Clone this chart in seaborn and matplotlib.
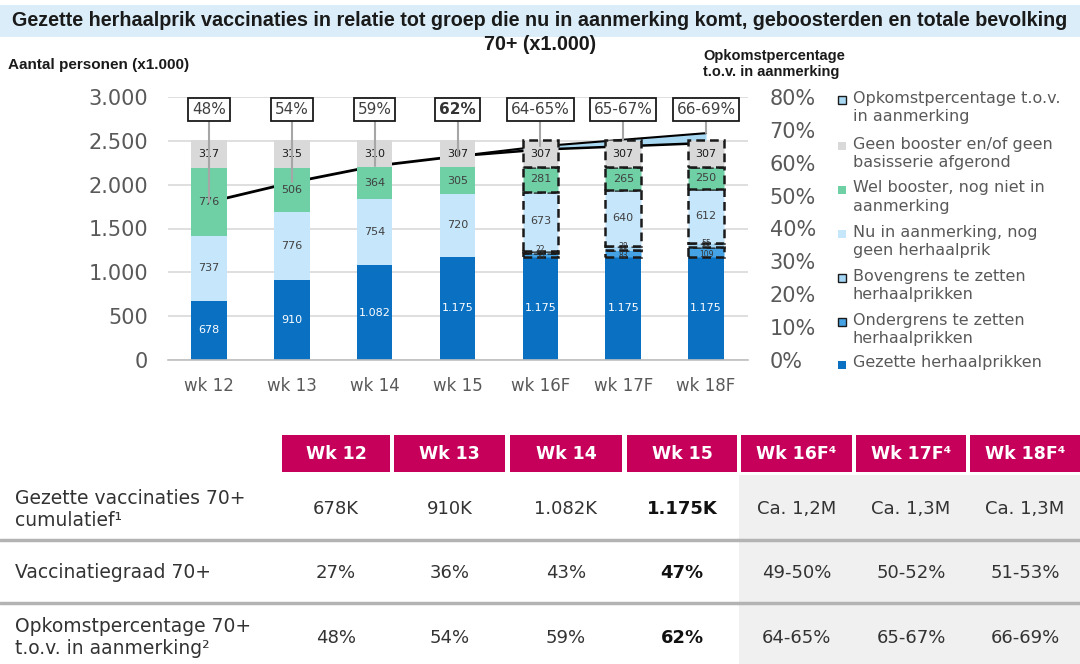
import matplotlib
matplotlib.use("Agg")
import matplotlib.pyplot as plt
from matplotlib.patches import Rectangle
from matplotlib.lines import Line2D
from matplotlib.ticker import FuncFormatter, FixedLocator
import seaborn as sns
import numpy as np

# ---------------- data ----------------
weeks = ["wk 12", "wk 13", "wk 14", "wk 15", "wk 16F", "wk 17F", "wk 18F"]
gezet = [678, 910, 1082, 1175, 1175, 1175, 1175]
onder = [0, 0, 0, 0, 50, 83, 109]
boven = [0, 0, 0, 0, 22, 38, 55]
nu_aanm = [737, 776, 754, 720, 673, 640, 612]
wel_booster = [776, 506, 364, 305, 281, 265, 250]
geen_booster = [317, 315, 310, 307, 307, 307, 307]

opkomst_actual = [48, 54, 59, 62]          # wk12..wk15
opkomst_low = [62, 64, 65, 66]             # wk15..wk18F
opkomst_high = [62, 65, 67, 69]
opkomst_labels = ["48%", "54%", "59%", "62%", "64-65%", "65-67%", "66-69%"]
opkomst_point = [48, 54, 59, 62, 65, 67, 69]

table_header = ["Wk 12", "Wk 13", "Wk 14", "Wk 15", "Wk 16F⁴", "Wk 17F⁴", "Wk 18F⁴"]
row_labels = ["Gezette vaccinaties 70+\ncumulatief¹", "Vaccinatiegraad 70+",
              "Opkomstpercentage 70+\nt.o.v. in aanmerking²"]
row_vacc = ["678K", "910K", "1.082K", "1.175K", "Ca. 1,2M", "Ca. 1,3M", "Ca. 1,3M"]
row_graad = ["27%", "36%", "43%", "47%", "49-50%", "50-52%", "51-53%"]
row_opkomst = ["48%", "54%", "59%", "62%", "64-65%", "65-67%", "66-69%"]

legend_labels = ["Opkomstpercentage t.o.v.\nin aanmerking",
                 "Geen booster en/of geen\nbasisserie afgerond",
                 "Wel booster, nog niet in\naanmerking",
                 "Nu in aanmerking, nog\ngeen herhaalprik",
                 "Bovengrens te zetten\nherhaalprikken",
                 "Ondergrens te zetten\nherhaalprikken",
                 "Gezette herhaalprikken"]

# ---------------- style ----------------
sns.set_theme(style="white")
plt.rcParams['font.family'] = ['DejaVu Sans']
NARROW = ['Liberation Sans Narrow', 'Liberation Sans', 'DejaVu Sans']

C_GEZET = '#0a70c2'
C_ONDER = '#45a3e5'
C_BOVEN = '#a6d6f5'
C_NU = '#c6e6fb'
C_WEL = '#6fcfa5'
C_GEEN = '#d9d9d9'
C_BAND = '#a9d9f2'
C_TXT = '#595959'
C_MAG = '#c6005a'

W, H = 1080, 664
fig = plt.figure(figsize=(W / 100, H / 100), dpi=100)


def fx(x):
    return x / W


def fy(y):
    return 1 - y / H


# ---------------- title ----------------
fig.patches.append(Rectangle((0, fy(37)), 1, 32 / H, transform=fig.transFigure,
                             facecolor='#daedf8', edgecolor='none', zorder=0))
fig.text(0.5, fy(21), "Gezette herhaalprik vaccinaties in relatie tot groep die nu in aanmerking komt, geboosterden en totale bevolking",
         ha='center', va='center', fontsize=14.2, fontweight='bold', family=NARROW, color='#1a1a1a')
fig.text(0.5, fy(44), "70+ (x1.000)", ha='center', va='center', fontsize=14.2,
         fontweight='bold', family=NARROW, color='#1a1a1a')
fig.text(fx(8), fy(65), "Aantal personen (x1.000)", ha='left', va='center', fontsize=11,
         fontweight='bold', family=NARROW, color='#1a1a1a')
fig.text(fx(703), fy(64), "Opkomstpercentage\nt.o.v. in aanmerking", ha='left', va='center',
         fontsize=10.5, fontweight='bold', family=NARROW, color='#1a1a1a', linespacing=1.25)

# ---------------- chart ----------------
ax = fig.add_axes([fx(167.5), fy(360), (747.5 - 167.5) / W, (360 - 97) / H])
x = np.arange(len(weeks))
bw = 0.43
YMAX = 3000
PMAX = 80
scale = YMAX / PMAX

ax.set_xlim(-0.5, len(weeks) - 0.5)
ax.set_ylim(0, YMAX)
ax.set_yticks(np.arange(0, 3001, 500))
ax.yaxis.set_major_formatter(FuncFormatter(lambda v, p: f"{int(v):,}".replace(",", ".")))
ax.grid(axis='y', color='#d9d9d9', linewidth=1.2)
ax.set_axisbelow(True)
for s in ['left', 'right', 'top']:
    ax.spines[s].set_visible(False)
ax.spines['bottom'].set_color('#bfbfbf')
ax.spines['bottom'].set_linewidth(1.2)
ax.tick_params(axis='y', length=0, labelsize=15, labelcolor=C_TXT, pad=14)
ax.set_xticks(x)
ax.set_xticklabels(weeks)
ax.tick_params(axis='x', which='major', length=0, labelsize=12, labelcolor=C_TXT, pad=12)
ax.xaxis.set_minor_locator(FixedLocator(np.arange(-0.5, len(weeks), 1.0)))
ax.tick_params(axis='x', which='minor', length=6, color='#bfbfbf', width=1.2)

# opkomst line (behind bars)
sns.lineplot(x=x[:4], y=np.array(opkomst_actual) * scale, ax=ax, color='black',
             linewidth=2, zorder=1.5, legend=False)
xb = x[3:]
ax.fill_between(xb, np.array(opkomst_low) * scale, np.array(opkomst_high) * scale,
                color=C_BAND, zorder=1.4, linewidth=0)
ax.plot(xb, np.array(opkomst_low) * scale, color='black', linewidth=1.8, zorder=1.5)
ax.plot(xb, np.array(opkomst_high) * scale, color='black', linewidth=1.5, zorder=1.5)

# stacked bars
is_fc = np.array([w.endswith('F') for w in weeks])
segments = [(gezet, C_GEZET, 'white', False),
            (onder, C_ONDER, '#333333', True),
            (boven, C_BOVEN, '#333333', True),
            (nu_aanm, C_NU, '#404040', True),
            (wel_booster, C_WEL, '#404040', True),
            (geen_booster, C_GEEN, '#1a1a1a', True)]
bottom = np.zeros(len(weeks))
for k, (vals, col, tcol, dashed) in enumerate(segments):
    vals = np.array(vals, dtype=float)
    ax.bar(x[~is_fc], vals[~is_fc], bw, bottom=bottom[~is_fc], color=col, zorder=2, linewidth=0)
    if dashed:
        ax.bar(x[is_fc], vals[is_fc], bw, bottom=bottom[is_fc], color=col, zorder=2,
               edgecolor='#1a1a1a', linewidth=1.8, linestyle=(0, (3.5, 2)))
    else:
        ax.bar(x[is_fc], vals[is_fc], bw, bottom=bottom[is_fc], color=col, zorder=2, linewidth=0)
    for i, v in enumerate(vals):
        if v <= 0:
            continue
        small = v < 150
        fs = 5.5 if small else 8
        # tiny segments: keep the two labels just apart (they overlap in the source)
        yoff = 0
        if small:
            yoff = -22 if k == 1 else 22
        ax.text(x[i], bottom[i] + v / 2 + yoff, f"{int(v):,}".replace(",", "."), ha='center',
                va='center', fontsize=fs, color=tcol, zorder=3)
    bottom += vals

# annotation boxes with leader lines
for i, lab in enumerate(opkomst_labels):
    ax.plot([x[i], x[i]], [opkomst_point[i] * scale, 2850], color='#a6a6a6', linewidth=1.5, zorder=4)
    ax.text(x[i], 2855, lab, ha='center', va='center', fontsize=11,
            fontweight='bold' if lab == "62%" else 'normal', color='#404040' if lab != "62%" else '#333333',
            zorder=5, bbox=dict(boxstyle='square,pad=0.25', facecolor='white', edgecolor='#1a1a1a', linewidth=1.3))

# right axis
ax2 = ax.twinx()
ax2.set_ylim(0, PMAX)
ax2.set_yticks(np.arange(0, 81, 10))
ax2.yaxis.set_major_formatter(FuncFormatter(lambda v, p: f"{int(v)}%"))
ax2.tick_params(axis='y', length=0, labelsize=15, labelcolor=C_TXT, pad=16)
for s in ax2.spines.values():
    s.set_visible(False)
ax2.grid(False)

# ---------------- legend ----------------
leg_y = [100, 146, 190, 234, 278, 322, 365]
leg_cols = [(C_BAND, '#1a1a1a'), (C_GEEN, 'none'), (C_WEL, 'none'), (C_NU, 'none'),
            (C_BOVEN, '#1a1a1a'), (C_ONDER, '#1a1a1a'), (C_GEZET, 'none')]
for yy, lab, (fc, ec) in zip(leg_y, legend_labels, leg_cols):
    fig.patches.append(Rectangle((fx(838), fy(yy + 4)), 8 / W, 8 / H, transform=fig.transFigure,
                                 facecolor=fc, edgecolor=ec, linewidth=1.0 if ec != 'none' else 0))
    fig.text(fx(853), fy(yy - 9.5), lab, ha='left', va='top', fontsize=11.5, color=C_TXT, linespacing=1.27)

# ---------------- table ----------------
col_left = [282, 394, 510, 627, 741, 856, 970]
col_right = [390, 505, 622, 737, 852, 966, 1080]
fig.patches.append(Rectangle((fx(739), fy(664)), (1080 - 739) / W, (664 - 475) / H,
                             transform=fig.transFigure, facecolor='#f0f0f0', edgecolor='none'))
for l, r, h in zip(col_left, col_right, table_header):
    fig.patches.append(Rectangle((fx(l), fy(472)), (r - l) / W, 37 / H, transform=fig.transFigure,
                                 facecolor=C_MAG, edgecolor='none'))
    fig.text(fx((l + r) / 2), fy(454), h, ha='center', va='center', fontsize=12.5,
             fontweight='bold', color='white')
for yy in [540, 603]:
    fig.add_artist(Line2D([0, 1], [fy(yy), fy(yy)], transform=fig.transFigure,
                          color='#b3b3b3', linewidth=2.5))

row_y = [509, 573, 638]
for yy, lab, vals in zip(row_y, row_labels, [row_vacc, row_graad, row_opkomst]):
    fig.text(fx(15), fy(yy), lab, ha='left', va='center', fontsize=13.5, color='#333333', linespacing=1.2)
    for j, (l, r) in enumerate(zip(col_left, col_right)):
        fig.text(fx((l + r) / 2), fy(yy), vals[j], ha='center', va='center', fontsize=13,
                 color='#111111' if j == 3 else '#333333', fontweight='bold' if j == 3 else 'normal')

fig.savefig("out.png", dpi=100)
